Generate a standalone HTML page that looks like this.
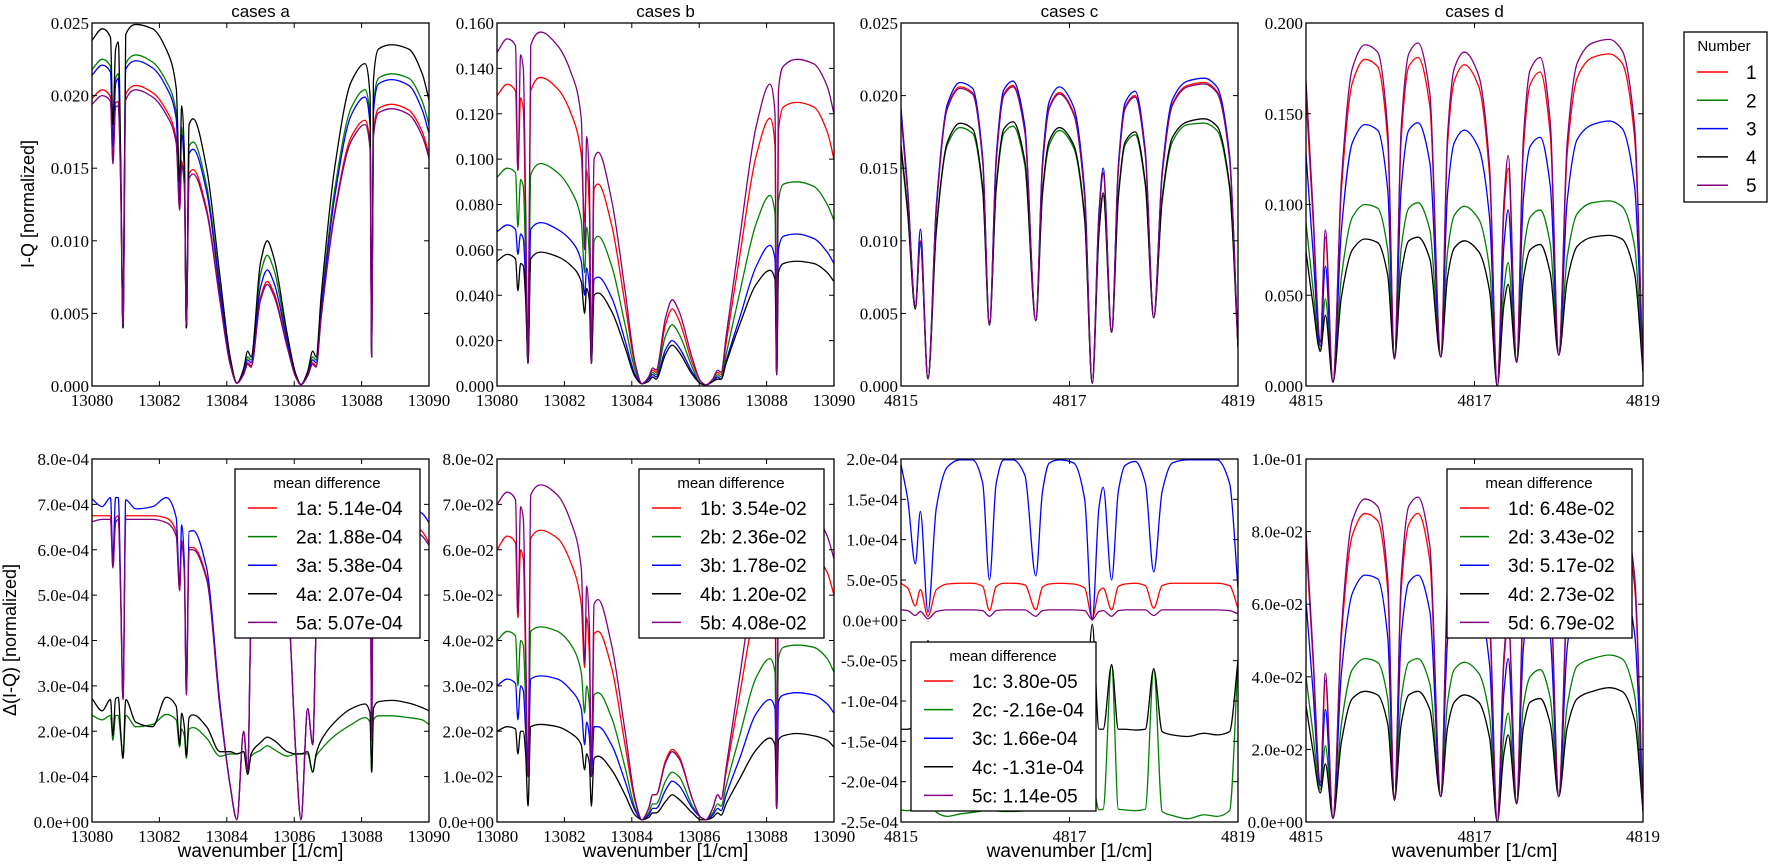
<!DOCTYPE html>
<html><head><meta charset="utf-8">
<style>
html,body{margin:0;padding:0;background:#fff;}
svg{display:block;}
.tk{font-family:"Liberation Serif",serif;font-size:17px;fill:#000;}
.sn{font-family:"Liberation Sans",sans-serif;fill:#000;}
</style></head>
<body>
<svg id="fig" width="1769" height="864" viewBox="0 0 1769 864" xmlns="http://www.w3.org/2000/svg"></svg>
<script>
// ---------- data ----------
const xAB=[13080.0,13080.3,13080.55,13080.62,13080.7,13080.78,13080.85,13080.92,13081.0,13081.3,13081.8,13082.2,13082.5,13082.6,13082.66,13082.74,13082.8,13082.88,13083.0,13083.4,13083.8,13084.1,13084.3,13084.5,13084.62,13084.72,13085.0,13085.2,13085.4,13085.8,13086.05,13086.2,13086.4,13086.55,13086.65,13086.8,13087.2,13087.7,13088.1,13088.25,13088.3,13088.35,13088.5,13088.9,13089.4,13089.8,13090.0];
const xCD=[4815.00,4815.08,4815.17,4815.23,4815.32,4815.42,4815.55,4815.7,4815.85,4815.97,4816.05,4816.13,4816.22,4816.33,4816.47,4816.6,4816.68,4816.76,4816.88,4817.05,4817.18,4817.27,4817.35,4817.4,4817.5,4817.58,4817.66,4817.78,4817.9,4818.0,4818.1,4818.22,4818.4,4818.6,4818.75,4818.9,4819.0];

const topA1=[0.0198,0.0204,0.0199,0.0155,0.0195,0.0196,0.0140,0.0042,0.0201,0.0207,0.0202,0.0190,0.0170,0.0122,0.0155,0.0140,0.0042,0.0146,0.0149,0.0122,0.0060,0.0015,0.0002,0.0008,0.0016,0.0014,0.0061,0.0072,0.0064,0.0027,0.0006,0.0001,0.0007,0.0016,0.0014,0.0048,0.0120,0.0172,0.0183,0.0166,0.0020,0.0174,0.0191,0.0194,0.0190,0.0175,0.0160];
const topA2=[0.0218,0.0225,0.0220,0.0170,0.0212,0.0215,0.0150,0.0040,0.0222,0.0228,0.0223,0.0210,0.0188,0.0130,0.0178,0.0150,0.0040,0.0165,0.0168,0.0138,0.0068,0.0018,0.0002,0.0010,0.0020,0.0018,0.0077,0.0090,0.0080,0.0032,0.0008,0.0001,0.0009,0.0020,0.0018,0.0055,0.0135,0.0192,0.0204,0.0185,0.0020,0.0192,0.0212,0.0215,0.0212,0.0196,0.0180];
const topA3=[0.0214,0.0221,0.0216,0.0165,0.0208,0.0212,0.0150,0.0040,0.0218,0.0224,0.0219,0.0206,0.0184,0.0128,0.0173,0.0148,0.0040,0.0160,0.0163,0.0134,0.0065,0.0017,0.0002,0.0009,0.0018,0.0016,0.0068,0.0080,0.0071,0.0030,0.0007,0.0001,0.0008,0.0018,0.0016,0.0052,0.0130,0.0187,0.0199,0.0180,0.0020,0.0188,0.0208,0.0211,0.0207,0.0190,0.0174];
const topA4=[0.0238,0.0246,0.0240,0.0180,0.0232,0.0237,0.0160,0.0040,0.0242,0.0249,0.0246,0.0232,0.0205,0.0140,0.0193,0.0160,0.0040,0.0180,0.0184,0.0150,0.0075,0.0020,0.0002,0.0012,0.0024,0.0020,0.0085,0.0100,0.0088,0.0035,0.0008,0.0001,0.0010,0.0024,0.0020,0.0062,0.0150,0.0210,0.0222,0.0200,0.0020,0.0210,0.0232,0.0235,0.0232,0.0215,0.0197];
const topA5=[0.0194,0.0200,0.0196,0.0153,0.0192,0.0193,0.0140,0.0042,0.0197,0.0204,0.0199,0.0187,0.0167,0.0121,0.0152,0.0138,0.0042,0.0143,0.0146,0.0120,0.0058,0.0015,0.0002,0.0008,0.0015,0.0013,0.0059,0.0070,0.0062,0.0026,0.0006,0.0001,0.0007,0.0015,0.0013,0.0047,0.0118,0.0169,0.0180,0.0163,0.0020,0.0171,0.0188,0.0191,0.0187,0.0172,0.0157];

const topB1=[0.128,0.133,0.130,0.095,0.127,0.122,0.070,0.010,0.130,0.136,0.131,0.120,0.102,0.072,0.095,0.078,0.010,0.087,0.089,0.071,0.036,0.009,0.001,0.004,0.007,0.006,0.027,0.034,0.029,0.010,0.002,0.0005,0.003,0.006,0.005,0.019,0.057,0.102,0.118,0.106,0.005,0.112,0.123,0.125,0.123,0.112,0.100];
const topB2=[0.092,0.096,0.094,0.070,0.091,0.088,0.055,0.010,0.093,0.098,0.094,0.086,0.073,0.050,0.070,0.058,0.010,0.064,0.066,0.053,0.027,0.007,0.001,0.003,0.006,0.005,0.022,0.027,0.023,0.008,0.001,0.0005,0.002,0.005,0.004,0.014,0.041,0.072,0.084,0.076,0.005,0.081,0.089,0.090,0.088,0.080,0.073];
const topB3=[0.068,0.071,0.069,0.058,0.067,0.065,0.045,0.010,0.069,0.072,0.069,0.064,0.055,0.040,0.052,0.044,0.010,0.047,0.048,0.039,0.020,0.005,0.001,0.003,0.005,0.004,0.016,0.020,0.017,0.006,0.001,0.0005,0.002,0.004,0.003,0.011,0.030,0.053,0.062,0.056,0.005,0.060,0.066,0.067,0.065,0.059,0.054];
const topB4=[0.055,0.058,0.056,0.042,0.054,0.053,0.038,0.010,0.056,0.059,0.057,0.053,0.046,0.032,0.043,0.038,0.010,0.040,0.041,0.033,0.017,0.004,0.001,0.002,0.004,0.003,0.014,0.018,0.015,0.005,0.001,0.0005,0.002,0.003,0.003,0.010,0.027,0.045,0.051,0.047,0.005,0.050,0.054,0.055,0.054,0.050,0.046];
const topB5=[0.147,0.153,0.150,0.095,0.146,0.140,0.080,0.010,0.150,0.156,0.150,0.138,0.118,0.060,0.110,0.090,0.010,0.100,0.103,0.082,0.042,0.010,0.001,0.004,0.008,0.007,0.030,0.038,0.033,0.012,0.002,0.0005,0.003,0.007,0.006,0.022,0.065,0.115,0.133,0.120,0.005,0.130,0.141,0.144,0.142,0.132,0.120];

const topC1=[0.0188,0.0133,0.0055,0.0100,0.0005,0.0123,0.0192,0.0206,0.0202,0.0155,0.0042,0.0155,0.0201,0.0207,0.0176,0.0045,0.0152,0.0192,0.0202,0.0188,0.0131,0.0002,0.0118,0.0147,0.0037,0.0150,0.0192,0.0200,0.0160,0.0047,0.0146,0.0194,0.0207,0.0209,0.0203,0.0157,0.0027];
const topC2=[0.0163,0.0118,0.0053,0.0097,0.0005,0.0107,0.0166,0.0178,0.0174,0.0134,0.0042,0.0135,0.0174,0.0179,0.0152,0.0045,0.0132,0.0166,0.0176,0.0164,0.0114,0.0002,0.0105,0.0131,0.0037,0.0129,0.0166,0.0173,0.0138,0.0047,0.0127,0.0168,0.0180,0.0181,0.0176,0.0136,0.0027];
const topC3=[0.0191,0.0135,0.0055,0.0108,0.0005,0.0125,0.0194,0.0209,0.0205,0.0157,0.0042,0.0158,0.0204,0.0210,0.0179,0.0045,0.0155,0.0196,0.0206,0.0192,0.0134,0.0002,0.0120,0.0150,0.0037,0.0152,0.0195,0.0203,0.0162,0.0047,0.0148,0.0197,0.0210,0.0212,0.0206,0.0159,0.0027];
const topC4=[0.0166,0.0120,0.0053,0.0099,0.0005,0.0109,0.0168,0.0181,0.0177,0.0136,0.0042,0.0137,0.0177,0.0182,0.0155,0.0045,0.0134,0.0169,0.0178,0.0166,0.0116,0.0002,0.0106,0.0133,0.0037,0.0131,0.0168,0.0175,0.0140,0.0047,0.0129,0.0171,0.0182,0.0184,0.0179,0.0138,0.0027];
const topC5=[0.0187,0.0132,0.0055,0.0099,0.0005,0.0122,0.0191,0.0205,0.0201,0.0154,0.0042,0.0154,0.0200,0.0206,0.0175,0.0045,0.0151,0.0191,0.0201,0.0187,0.0130,0.0002,0.0117,0.0146,0.0037,0.0149,0.0191,0.0199,0.0159,0.0047,0.0145,0.0193,0.0206,0.0208,0.0202,0.0156,0.0027];

const topD1=[0.160,0.095,0.024,0.082,0.002,0.108,0.167,0.180,0.176,0.135,0.015,0.136,0.176,0.181,0.154,0.016,0.133,0.168,0.177,0.165,0.115,0.0,0.096,0.120,0.013,0.130,0.166,0.173,0.138,0.017,0.128,0.170,0.181,0.183,0.178,0.137,0.008];
const topD2=[0.090,0.055,0.020,0.048,0.002,0.060,0.093,0.100,0.098,0.075,0.015,0.076,0.098,0.101,0.086,0.016,0.074,0.094,0.099,0.092,0.064,0.0,0.054,0.068,0.013,0.073,0.093,0.097,0.078,0.017,0.071,0.095,0.101,0.102,0.099,0.077,0.008];
const topD3=[0.128,0.076,0.022,0.066,0.002,0.086,0.134,0.144,0.141,0.108,0.015,0.109,0.141,0.145,0.123,0.016,0.106,0.134,0.141,0.131,0.092,0.0,0.078,0.097,0.013,0.103,0.132,0.137,0.110,0.017,0.102,0.136,0.144,0.146,0.142,0.110,0.008];
const topD4=[0.074,0.046,0.019,0.039,0.002,0.049,0.075,0.081,0.079,0.061,0.015,0.062,0.080,0.082,0.070,0.016,0.060,0.076,0.080,0.074,0.052,0.0,0.045,0.056,0.013,0.059,0.075,0.078,0.062,0.017,0.058,0.077,0.082,0.083,0.081,0.062,0.008];
const topD5=[0.168,0.100,0.025,0.086,0.002,0.113,0.175,0.188,0.184,0.141,0.015,0.142,0.183,0.189,0.161,0.016,0.138,0.175,0.184,0.171,0.120,0.0,0.102,0.127,0.013,0.136,0.174,0.181,0.145,0.017,0.134,0.178,0.189,0.191,0.185,0.143,0.008];

// bottom a in units of 1e-4
const botA1=[6.75,6.75,6.75,5.6,6.7,6.75,5.0,2.7,6.75,6.75,6.75,6.7,6.4,5.1,6.2,5.5,2.8,6.05,6.05,5.4,2.5,0.8,0.05,2.0,1.1,4.5,6.0,6.0,6.0,5.0,1.5,0.05,2.5,1.7,4.2,5.5,6.3,6.6,6.7,6.6,1.8,6.6,6.7,6.7,6.6,6.4,6.15];
const botA2=[2.35,2.25,2.35,1.8,2.35,2.35,1.9,1.4,2.35,2.1,2.15,2.37,2.25,1.65,2.05,1.9,1.4,2.05,2.08,1.85,1.45,1.5,1.5,1.55,1.05,1.45,1.58,1.68,1.6,1.45,1.5,1.5,1.5,1.1,1.45,1.6,1.9,2.15,2.3,2.2,1.1,2.25,2.34,2.34,2.30,2.25,2.15];
const botA3=[7.12,6.95,7.15,5.8,7.15,7.15,5.2,2.8,7.1,6.9,6.95,7.15,6.7,5.2,6.55,5.7,2.9,6.4,6.42,5.6,2.6,0.8,0.05,2.0,1.1,4.5,6.0,6.0,6.0,5.0,1.5,0.05,2.5,1.7,4.2,5.5,6.5,6.8,7.0,6.9,1.8,6.9,7.0,7.0,6.95,6.8,6.6];
const botA4=[2.72,2.45,2.70,1.9,2.72,2.75,2.0,1.4,2.70,2.2,2.10,2.75,2.55,1.7,2.4,2.1,1.45,2.3,2.36,2.1,1.55,1.55,1.5,1.55,1.05,1.5,1.75,1.87,1.8,1.55,1.5,1.5,1.55,1.1,1.5,1.8,2.2,2.5,2.6,2.4,1.1,2.5,2.65,2.68,2.62,2.52,2.45];
const botA5=[6.62,6.67,6.67,5.6,6.6,6.67,5.0,2.7,6.67,6.67,6.67,6.6,6.3,5.1,6.1,5.5,2.8,6.0,6.0,5.35,2.5,0.8,0.05,2.0,1.1,4.5,6.0,6.0,6.0,5.0,1.5,0.05,2.5,1.7,4.2,5.5,6.2,6.5,6.6,6.5,1.8,6.5,6.6,6.6,6.5,6.3,6.1];

// bottom b in units of 1e-2
const botB1=[6.0,6.3,6.15,4.5,6.0,5.8,3.5,1.0,6.25,6.43,6.25,5.7,4.8,3.4,4.5,3.7,1.0,4.15,4.2,3.4,1.7,0.45,0.05,0.3,0.6,0.6,1.35,1.6,1.45,0.5,0.1,0.05,0.3,0.6,0.5,1.1,2.8,4.8,5.5,5.0,0.3,5.4,5.8,6.0,5.9,5.5,5.0];
const botB2=[4.0,4.2,4.1,3.0,4.0,3.9,2.6,1.0,4.2,4.3,4.2,3.9,3.3,2.4,3.0,2.6,1.0,2.8,2.85,2.3,1.2,0.3,0.05,0.2,0.4,0.4,0.9,1.1,1.0,0.35,0.1,0.05,0.2,0.4,0.35,0.8,1.9,3.2,3.6,3.3,0.3,3.6,3.85,3.9,3.85,3.6,3.3];
const botB3=[3.0,3.15,3.05,2.25,3.0,2.9,2.0,1.0,3.15,3.22,3.15,2.9,2.5,1.7,2.2,1.9,1.0,2.1,2.1,1.7,0.9,0.25,0.05,0.15,0.3,0.3,0.7,0.9,0.8,0.3,0.1,0.05,0.15,0.3,0.25,0.6,1.4,2.4,2.7,2.5,0.3,2.65,2.8,2.85,2.8,2.6,2.4];
const botB4=[2.0,2.1,2.05,1.5,2.0,2.0,1.5,0.35,2.1,2.15,2.1,1.95,1.7,1.15,1.5,1.3,0.35,1.4,1.45,1.15,0.6,0.15,0.05,0.1,0.2,0.2,0.45,0.6,0.5,0.2,0.05,0.05,0.1,0.2,0.15,0.4,0.95,1.6,1.85,1.7,0.3,1.8,1.9,1.95,1.9,1.8,1.65];
const botB5=[7.0,7.27,7.1,4.6,6.95,6.7,4.0,1.0,7.2,7.43,7.2,6.6,5.6,3.5,5.2,4.3,1.0,4.8,4.9,3.9,2.0,0.5,0.05,0.3,0.6,0.6,1.3,1.55,1.4,0.5,0.1,0.05,0.3,0.6,0.5,1.2,3.2,5.5,6.3,5.8,0.3,6.2,6.7,6.9,6.8,6.3,5.8];

// bottom c in units of 1e-5
const botC1=[4.6,4.0,1.8,3.8,0.5,3.8,4.5,4.6,4.6,4.2,1.2,4.2,4.6,4.6,4.4,1.3,4.1,4.5,4.6,4.5,4.0,0.3,3.6,4.0,1.3,4.2,4.5,4.6,4.3,1.5,4.3,4.6,4.6,4.6,4.6,4.3,1.5];
const botC2=[-23.5,-23.6,-23.4,-23.6,-20,-23.8,-24.3,-24.0,-23.8,-23.6,-23.2,-23.6,-23.7,-23.7,-23.6,-23.2,-23.6,-23.6,-23.6,-23.6,-23.6,-20,-23.5,-23.4,-5.5,-23.4,-23.5,-23.6,-23.4,-6,-23.7,-24.2,-24.6,-24.1,-24.3,-23.6,-5];
const botC3=[19.3,15,7,13.5,1,14,19,19.9,19.9,17,5,17,19.9,19.9,18,5.5,16,19.5,19.9,19.5,15,0,14,16.5,5,16,19.2,19.7,17,6,16,19.5,19.9,19.9,19.9,17,4];
const botC4=[-13.5,-13.5,-13.2,-13.5,-2.5,-13.5,-13.5,-13.5,-13.5,-13.5,-13,-13.5,-13.5,-13.5,-13.5,-13,-13.5,-13.5,-13.5,-13.5,-13.5,-0.5,-13.5,-13.5,-5.5,-13.5,-13.5,-13.6,-13.5,-6,-13.8,-14.2,-14.4,-14.0,-14.2,-13.8,-5];
const botC5=[1.3,1.2,0.6,1.1,0.2,1.1,1.3,1.3,1.3,1.2,0.5,1.2,1.3,1.3,1.3,0.5,1.2,1.3,1.3,1.3,1.2,0.1,1.1,1.2,0.5,1.2,1.3,1.3,1.3,0.6,1.3,1.3,1.3,1.3,1.3,1.2,0.8];

const botD1=[0.077,0.046,0.010,0.039,0.001,0.051,0.079,0.085,0.083,0.064,0.006,0.064,0.082,0.085,0.072,0.007,0.062,0.079,0.083,0.077,0.054,0.0,0.044,0.055,0.005,0.060,0.077,0.080,0.064,0.007,0.060,0.080,0.085,0.086,0.083,0.065,0.003];
const botD2=[0.040,0.025,0.009,0.021,0.001,0.027,0.042,0.045,0.044,0.034,0.006,0.034,0.044,0.045,0.038,0.007,0.033,0.042,0.044,0.041,0.029,0.0,0.024,0.030,0.005,0.032,0.040,0.042,0.034,0.007,0.032,0.043,0.045,0.046,0.045,0.035,0.003];
const botD3=[0.061,0.037,0.010,0.031,0.001,0.041,0.063,0.068,0.067,0.051,0.006,0.051,0.066,0.068,0.058,0.007,0.050,0.063,0.066,0.061,0.043,0.0,0.036,0.045,0.005,0.048,0.061,0.064,0.051,0.007,0.048,0.064,0.068,0.069,0.067,0.052,0.003];
const botD4=[0.032,0.020,0.008,0.016,0.001,0.022,0.034,0.036,0.035,0.027,0.006,0.027,0.035,0.036,0.031,0.007,0.026,0.033,0.035,0.033,0.023,0.0,0.019,0.024,0.005,0.026,0.033,0.034,0.027,0.007,0.026,0.034,0.036,0.037,0.036,0.028,0.003];
const botD5=[0.080,0.048,0.011,0.041,0.001,0.053,0.083,0.089,0.087,0.067,0.006,0.067,0.087,0.0895,0.076,0.007,0.065,0.083,0.087,0.081,0.057,0.0,0.046,0.057,0.005,0.063,0.081,0.084,0.067,0.007,0.063,0.084,0.089,0.090,0.087,0.068,0.003];

const yTicksTopA=["0.000","0.005","0.010","0.015","0.020","0.025"];
const yTicksTopB=["0.000","0.020","0.040","0.060","0.080","0.100","0.120","0.140","0.160"];
const yTicksTopC=["0.000","0.005","0.010","0.015","0.020","0.025"];
const yTicksTopD=["0.000","0.050","0.100","0.150","0.200"];
const yTicksBotA=["0.0e+00","1.0e-04","2.0e-04","3.0e-04","4.0e-04","5.0e-04","6.0e-04","7.0e-04","8.0e-04"];
const yTicksBotB=["0.0e+00","1.0e-02","2.0e-02","3.0e-02","4.0e-02","5.0e-02","6.0e-02","7.0e-02","8.0e-02"];
const yTicksBotC=["-2.5e-04","-2.0e-04","-1.5e-04","-1.0e-04","-5.0e-05","0.0e+00","5.0e-05","1.0e-04","1.5e-04","2.0e-04"];
const yTicksBotD=["0.0e+00","2.0e-02","4.0e-02","6.0e-02","8.0e-02","1.0e-01"];
const xTicksAB=[13080,13082,13084,13086,13088,13090];
const xTicksCD=[4815,4817,4819];
const meanA=["1a: 5.14e-04","2a: 1.88e-04","3a: 5.38e-04","4a: 2.07e-04","5a: 5.07e-04"];
const meanB=["1b: 3.54e-02","2b: 2.36e-02","3b: 1.78e-02","4b: 1.20e-02","5b: 4.08e-02"];
const meanC=["1c: 3.80e-05","2c: -2.16e-04","3c: 1.66e-04","4c: -1.31e-04","5c: 1.14e-05"];
const meanD=["1d: 6.48e-02","2d: 3.43e-02","3d: 5.17e-02","4d: 2.73e-02","5d: 6.79e-02"];
const seriesNames=["1","2","3","4","5"];

// ---------- rendering ----------
const COLORS=["#ff0000","#008000","#0000ff","#000000","#800080"];
const NS="http://www.w3.org/2000/svg";
const svg=document.getElementById('fig');
function mk(tag,attrs,parent){const e=document.createElementNS(NS,tag);for(const k in attrs)e.setAttribute(k,attrs[k]);(parent||svg).appendChild(e);return e;}
const defs=mk('defs',{});
const W=337;
const LEFTS=[92,497,901,1306];
const ROWS=[[23,386],[459,822]];

function monoPath(px,py){
  const n=px.length,d=[],m=new Array(n);
  for(let i=0;i<n-1;i++)d.push((py[i+1]-py[i])/(px[i+1]-px[i]));
  m[0]=d[0];m[n-1]=d[n-2];
  for(let i=1;i<n-1;i++){
    if(d[i-1]*d[i]<=0)m[i]=0;
    else{const w1=2*(px[i+1]-px[i])+(px[i]-px[i-1]),w2=(px[i+1]-px[i])+2*(px[i]-px[i-1]);m[i]=(w1+w2)/(w1/d[i-1]+w2/d[i]);}
  }
  let s='M'+px[0].toFixed(2)+','+py[0].toFixed(2);
  for(let i=0;i<n-1;i++){
    const h=px[i+1]-px[i];
    s+='C'+(px[i]+h/3).toFixed(2)+','+(py[i]+m[i]*h/3).toFixed(2)+' '+(px[i+1]-h/3).toFixed(2)+','+(py[i+1]-m[i+1]*h/3).toFixed(2)+' '+px[i+1].toFixed(2)+','+py[i+1].toFixed(2);
  }
  return s;
}

const panels=[
 {id:'a',col:0,row:0,x:xAB,xmin:13080,xmax:13090,ymin:0,ymax:0.025,ser:[topA1,topA2,topA3,topA4,topA5],yt:yTicksTopA,xt:xTicksAB,title:'cases a'},
 {id:'b',col:1,row:0,x:xAB,xmin:13080,xmax:13090,ymin:0,ymax:0.160,ser:[topB1,topB2,topB3,topB4,topB5],yt:yTicksTopB,xt:xTicksAB,title:'cases b'},
 {id:'c',col:2,row:0,x:xCD,xmin:4815,xmax:4819,ymin:0,ymax:0.025,ser:[topC1,topC2,topC3,topC4,topC5],yt:yTicksTopC,xt:xTicksCD,title:'cases c'},
 {id:'d',col:3,row:0,x:xCD,xmin:4815,xmax:4819,ymin:0,ymax:0.200,ser:[topD1,topD2,topD3,topD4,topD5],yt:yTicksTopD,xt:xTicksCD,title:'cases d'},
 {id:'a',col:0,row:1,x:xAB,xmin:13080,xmax:13090,ymin:0,ymax:8,ser:[botA1,botA2,botA3,botA4,botA5],yt:yTicksBotA,xt:xTicksAB,leg:meanA,lx:235,ly:469},
 {id:'b',col:1,row:1,x:xAB,xmin:13080,xmax:13090,ymin:0,ymax:8,ser:[botB1,botB2,botB3,botB4,botB5],yt:yTicksBotB,xt:xTicksAB,leg:meanB,lx:639,ly:469},
 {id:'c',col:2,row:1,x:xCD,xmin:4815,xmax:4819,ymin:-25,ymax:20,ser:[botC1,botC2,botC3,botC4,botC5],yt:yTicksBotC,xt:xTicksCD,leg:meanC,lx:911,ly:642},
 {id:'d',col:3,row:1,x:xCD,xmin:4815,xmax:4819,ymin:0,ymax:0.1,ser:[botD1,botD2,botD3,botD4,botD5],yt:yTicksBotD,xt:xTicksCD,leg:meanD,lx:1447,ly:469}
];

panels.forEach((p,pi)=>{
  const L=LEFTS[p.col],T=ROWS[p.row][0],B=ROWS[p.row][1],H=B-T;
  const sx=v=>L+(v-p.xmin)/(p.xmax-p.xmin)*W;
  const sy=v=>B-(v-p.ymin)/(p.ymax-p.ymin)*H;
  const g=mk('g',{});
  
  
  const cp=mk('clipPath',{id:'cp'+pi},defs);
  mk('rect',{x:L,y:T,width:W,height:H},cp);
  const lines=mk('g',{'clip-path':'url(#cp'+pi+')'},g);
  p.ser.forEach((ys,si)=>{
    const px=p.x.map(sx),py=ys.map(sy);
    const path=mk('path',{d:monoPath(px,py),fill:'none',stroke:COLORS[si],'stroke-width':1.3,'stroke-linejoin':'round'},lines);
    
    
  });
  const fr=mk('rect',{x:L,y:T,width:W,height:H,fill:'none',stroke:'#000','stroke-width':1.3},g);
  
  
  const n=p.yt.length;
  p.yt.forEach((lab,i)=>{
    const y=T+H-(i/(n-1))*H;
    mk('line',{x1:L,x2:L+5,y1:y,y2:y,stroke:'#000','stroke-width':1},g);
    mk('line',{x1:L+W,x2:L+W-5,y1:y,y2:y,stroke:'#000','stroke-width':1},g);
    const t=mk('text',{x:L-3,y:y+6,'text-anchor':'end',class:'tk'},g);
    t.textContent=lab;
    
    
  });
  p.xt.forEach(v=>{
    const x=sx(v);
    mk('line',{x1:x,x2:x,y1:B,y2:B-5,stroke:'#000','stroke-width':1},g);
    mk('line',{x1:x,x2:x,y1:T,y2:T+5,stroke:'#000','stroke-width':1},g);
    const t=mk('text',{x:x,y:B+20,'text-anchor':'middle',class:'tk'},g);
    t.textContent=String(v);
    
    
  });
  if(p.title){
    const t=mk('text',{x:L+W/2,y:17,'text-anchor':'middle',class:'sn','font-size':17},g);
    t.textContent=p.title;
    
    
  }
  if(p.row===1){
    const t=mk('text',{x:L+W/2,y:857,'text-anchor':'middle',class:'sn','font-size':19},g);
    t.textContent='wavenumber [1/cm]';
    
    
  }
  if(p.leg){
    const lg=mk('g',{},g);
    
    
    mk('rect',{x:p.lx,y:p.ly,width:185,height:169,fill:'#fff',stroke:'#000','stroke-width':1.3},lg);
    const tt=mk('text',{x:p.lx+92,y:p.ly+19,'text-anchor':'middle',class:'sn','font-size':15},lg);
    tt.textContent='mean difference';
    p.leg.forEach((lab,i)=>{
      const yy=p.ly+39+i*28.6;
      mk('line',{x1:p.lx+13,x2:p.lx+42,y1:yy,y2:yy,stroke:COLORS[i],'stroke-width':1.5},lg);
      const e=mk('text',{x:p.lx+61,y:yy+7,class:'sn','font-size':19},lg);
      e.textContent=lab;
      
      
    });
  }
});

(function(){
  let t=mk('text',{x:0,y:0,'text-anchor':'middle',class:'sn','font-size':18,transform:'translate(34,204) rotate(-90)'});
  t.textContent='I-Q [normalized]';
  
  
  t=mk('text',{x:0,y:0,'text-anchor':'middle',class:'sn','font-size':18,transform:'translate(16,640) rotate(-90)'});
  t.textContent='\u0394(I-Q) [normalized]';
  
  
})();

(function(){
  const lg=mk('g',{});
  
  
  mk('rect',{x:1684,y:32,width:83,height:170,fill:'#fff',stroke:'#000','stroke-width':1.3},lg);
  const tt=mk('text',{x:1724,y:51,'text-anchor':'middle',class:'sn','font-size':15},lg);
  tt.textContent='Number';
  seriesNames.forEach((s,i)=>{
    const yy=72+i*28.3;
    mk('line',{x1:1697,x2:1728,y1:yy,y2:yy,stroke:COLORS[i],'stroke-width':1.5},lg);
    const e=mk('text',{x:1746,y:yy+7,class:'sn','font-size':19},lg);
    e.textContent=s;
    
    
  });
})();
</script>
</body></html>
